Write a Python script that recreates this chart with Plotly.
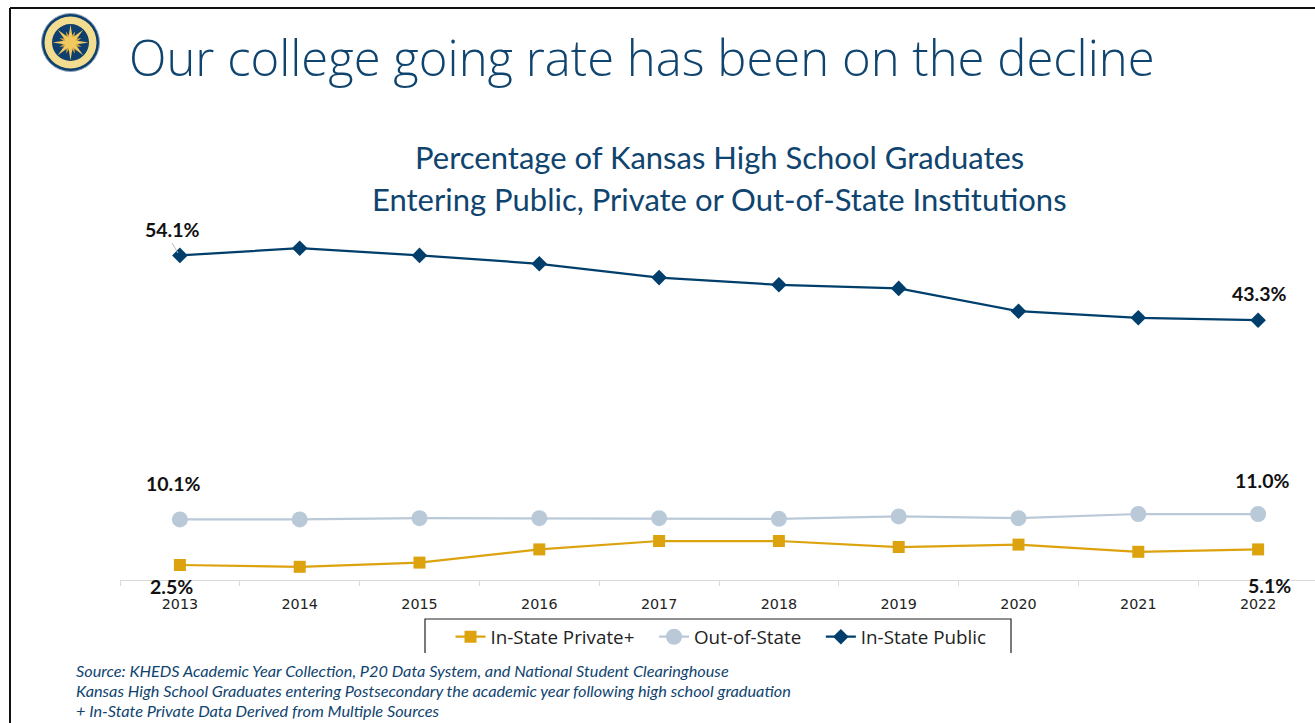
import math
import plotly.graph_objects as go

years = ["2013", "2014", "2015", "2016", "2017", "2018", "2019", "2020", "2021", "2022"]
private = [2.5, 2.2, 2.9, 5.1, 6.5, 6.5, 5.5, 5.9, 4.7, 5.1]
out_of_state = [10.1, 10.1, 10.3, 10.3, 10.3, 10.2, 10.6, 10.3, 11.0, 11.0]
public = [54.1, 55.3, 54.1, 52.7, 50.4, 49.2, 48.6, 44.8, 43.7, 43.3]
main_title = "Our college going rate has been on the decline"
sub_title_lines = ["Percentage of Kansas High School Graduates",
                   "Entering Public, Private or Out-of-State Institutions"]
source_lines = [
    "Source: KHEDS Academic Year Collection, P20 Data System, and National Student Clearinghouse",
    "Kansas High School Graduates entering Postsecondary the academic year following high school graduation",
    "+ In-State Private Data Derived from Multiple Sources",
]

W, H = 1315, 723
L, R, T, B = 120, 0, 130, 143
NAVY = "#003e6b"
TEXTBLUE = "#0f446f"
FONT = "Lato, sans-serif"
GAP = "\u00a0\u00a0\u00a0"


def px(x):
    return (x - L) / (W - L - R)


def py(y):
    return 1 - (y - T) / (H - T - B)


def circle_shape(cx, cy, r, **kw):
    return dict(type="circle", xref="paper", yref="paper", x0=px(cx - r), x1=px(cx + r),
                y0=py(cy + r), y1=py(cy - r), **kw)


def path_shape(points, closed=True, **kw):
    d = "M" + " L".join(f"{px(a):.5f},{py(b):.5f}" for a, b in points) + (" Z" if closed else "")
    return dict(type="path", xref="paper", yref="paper", path=d, **kw)


def star(cx, cy, n, r1, r2, offset=0.0):
    pts = []
    for i in range(2 * n):
        r = r1 if i % 2 == 0 else r2
        a = math.pi * i / n + offset - math.pi / 2
        pts.append((cx + r * math.cos(a), cy + r * math.sin(a)))
    return pts


fig = go.Figure()
fig.add_trace(go.Scatter(x=years, y=private, name="In-State Private+" + GAP, mode="lines+markers",
                         line=dict(color="#dca30f", width=2.25),
                         marker=dict(symbol="square", size=12, color="#dca30f")))
fig.add_trace(go.Scatter(x=years, y=out_of_state, name="Out-of-State" + GAP, mode="lines+markers",
                         line=dict(color="#b9c9d7", width=2.25),
                         marker=dict(symbol="circle", size=16, color="#b9c9d7")))
fig.add_trace(go.Scatter(x=years, y=public, name="In-State Public", mode="lines+markers",
                         line=dict(color=NAVY, width=2.25),
                         marker=dict(symbol="diamond", size=12, color=NAVY)))

shapes = [
    dict(type="line", xref="paper", yref="paper", x0=px(10), x1=px(1315), y0=py(8), y1=py(8),
         line=dict(color="#111111", width=2)),
    dict(type="line", xref="paper", yref="paper", x0=px(10), x1=px(10), y0=py(8), y1=py(723),
         line=dict(color="#111111", width=2)),
    path_shape([(425, 653), (425, 619), (1011, 619), (1011, 653)], closed=False,
               line=dict(color="#222222", width=1.2)),
    dict(type="line", xref="paper", yref="paper", x0=px(172), x1=px(178), y0=py(243), y1=py(253),
         line=dict(color="#bdbdbd", width=1)),
    circle_shape(70.5, 42.5, 29, fillcolor="#0f3f6e", line=dict(color="#8fa7bd", width=1)),
    circle_shape(70.5, 42.5, 26, fillcolor="#f2dc8f", line=dict(width=0)),
    circle_shape(70.5, 42.5, 18.5, fillcolor="#0f3f6e", line=dict(width=0)),
    path_shape(star(70.5, 42.5, 8, 12, 5, offset=math.pi / 8), fillcolor="#d3a33c", line=dict(width=0)),
    path_shape(star(70.5, 42.5, 8, 18, 5.5), fillcolor="#f0c860", line=dict(width=0)),
]

annotations = []
for line, ypos in zip(sub_title_lines, [156.5, 198.5]):
    annotations.append(dict(text=line, xref="paper", yref="paper", x=px(719.5), y=py(ypos), xanchor="center",
                            yanchor="middle", showarrow=False,
                            font=dict(family=FONT, size=31, color=TEXTBLUE)))

last = len(years) - 1
label_specs = [
    (0, public[0], -7, 26, "54.1%"),
    (last, public[last], 1, 27, "43.3%"),
    (0, out_of_state[0], -6, 36, "10.1%"),
    (last, out_of_state[last], 4, 34, "11.0%"),
    (0, private[0], -8, -21, "2.5%"),
    (last, private[last], 11, -36, "5.1%"),
]
for x, y, dx, dy, text in label_specs:
    annotations.append(dict(x=x, y=y, xref="x", yref="y", xshift=dx, yshift=dy, text=text, showarrow=False,
                            font=dict(family=FONT, size=19.5, color="#111111", weight="bold")))

for i, line in enumerate(source_lines):
    annotations.append(dict(text=f"<i>{line}</i>", xref="paper", yref="paper", x=px(74), y=py(670.5 + 20 * i),
                            xanchor="left", yanchor="middle", showarrow=False,
                            font=dict(family=FONT, size=16.3, color=TEXTBLUE)))

fig.update_layout(
    width=W, height=H, autosize=False,
    margin=dict(l=L, r=R, t=T, b=B, pad=0),
    paper_bgcolor="white", plot_bgcolor="white",
    title=dict(text=main_title, xref="container", yref="container", x=129 / W, xanchor="left",
               y=1 - 59 / H, yanchor="middle",
               font=dict(family="Open Sans, sans-serif", size=49, color=TEXTBLUE, weight=300)),
    showlegend=True,
    legend=dict(orientation="h", xref="paper", yref="paper", x=px(721), xanchor="center",
                y=py(637), yanchor="middle", bgcolor="rgba(0,0,0,0)", traceorder="normal",
                font=dict(family="Open Sans, sans-serif", size=18.8, color="#222222")),
    xaxis=dict(type="category", categoryorder="array", categoryarray=years, range=[-0.5, 9.475],
               showgrid=False, zeroline=False, showline=True, linecolor="#d9d9d9", linewidth=1,
               ticks="outside", tickson="boundaries", ticklen=5, tickcolor="#d9d9d9", ticklabelstandoff=11,
               tickfont=dict(family="DejaVu Sans, sans-serif", size=14.3, color="#222222")),
    yaxis=dict(range=[0, 75], visible=False, showgrid=False, zeroline=False),
    shapes=shapes, annotations=annotations,
)
fig.write_html("out.html", config=dict(displayModeBar=False),
               post_script="document.body.style.margin='0';document.body.style.overflow='hidden';")
